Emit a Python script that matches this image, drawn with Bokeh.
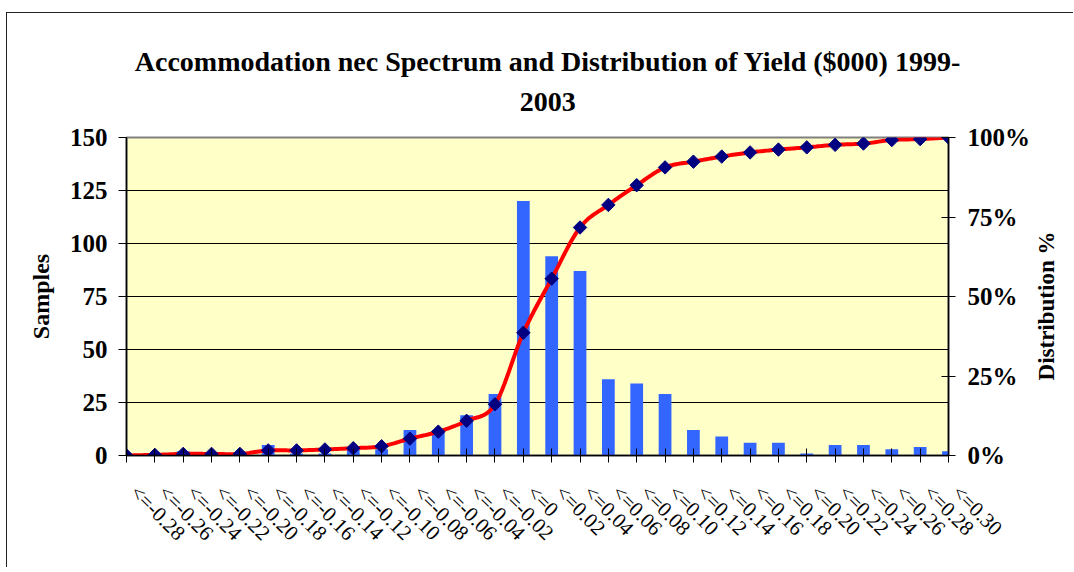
import math
import numpy as np
from bokeh.plotting import figure
from bokeh.models import Range1d, LinearAxis, FixedTicker, Title, ColumnDataSource
from bokeh.embed import file_html
from bokeh.resources import INLINE

# ---- data ----
categories = ["<=-0.28", "<=-0.26", "<=-0.24", "<=-0.22", "<=-0.20", "<=-0.18",
              "<=-0.16", "<=-0.14", "<=-0.12", "<=-0.10", "<=-0.08", "<=-0.06",
              "<=-0.04", "<=-0.02", "<=0", "<=0.02", "<=0.04", "<=0.06", "<=0.08",
              "<=0.10", "<=0.12", "<=0.14", "<=0.16", "<=0.18", "<=0.20", "<=0.22",
              "<=0.24", "<=0.26", "<=0.28", "<=0.30"]
samples = [0, 1, 2, 0, 0, 5, 1, 1, 3, 3, 12, 12, 19, 29, 120, 94, 87, 36, 34, 29,
           12, 9, 6, 6, 1, 5, 5, 3, 4, 2]
distribution_pct = [0, 0.2, 0.5, 0.5, 0.5, 1.6, 1.6, 1.9, 2.3, 2.9, 5.3, 7.5, 10.9,
                    16.1, 38.6, 55.6, 71.7, 78.8, 85.0, 90.6, 92.4, 94.0, 95.3, 96.2,
                    96.9, 97.7, 98.1, 99.2, 99.5, 100]
left_ticks = [0, 25, 50, 75, 100, 125, 150]
right_ticks = [0, 25, 50, 75, 100]
title_line1 = "Accommodation nec Spectrum and Distribution of Yield ($000) 1999-"
title_line2 = "2003"
right_title = "Distribution %"

FONT = "Liberation Serif"
NB = "\u00a0\u00a0"
idx = list(range(len(categories)))

p = figure(width=1067, height=555, output_backend="svg", toolbar_location=None,
           x_range=Range1d(0, len(categories) - 1), y_range=Range1d(0, 150),
           min_border_left=119, min_border_right=126, min_border_top=124,
           min_border_bottom=113)
p.styles = {"border-left": "1px solid #222", "border-top": "1px solid #222",
            "margin-top": "12px", "margin-left": "6px"}
p.extra_y_ranges = {"pct": Range1d(0, 100)}
p.background_fill_color = "#FFFFC8"
p.border_fill_color = "white"
p.outline_line_color = "#808080"
p.outline_line_width = 2

# grid
p.xgrid.visible = False
p.ygrid.ticker = FixedTicker(ticks=left_ticks[1:-1])
p.ygrid.grid_line_color = "black"
p.ygrid.grid_line_width = 1

# bars
src = ColumnDataSource(dict(x=idx, top=samples))
p.vbar(x="x", top="top", width=0.45, bottom=0, source=src,
       fill_color="#3366FF", line_color=None)

# smoothed cumulative line (Excel-style bezier smoothing of the read points)
pts = np.column_stack([np.array(idx, float), np.array(distribution_pct, float)])
sx, sy = [], []
n = len(pts)
for i in range(n - 1):
    p0 = pts[i - 1] if i > 0 else pts[i]
    p1 = pts[i]
    p2 = pts[i + 1]
    p3 = pts[i + 2] if i + 2 < n else pts[i + 1]
    c1 = p1 + (p2 - p0) / 6.0
    c2 = p2 - (p3 - p1) / 6.0
    for t in np.linspace(0, 1, 16)[:-1]:
        b = ((1 - t) ** 3) * p1 + 3 * ((1 - t) ** 2) * t * c1 + 3 * (1 - t) * t * t * c2 + t ** 3 * p2
        sx.append(b[0]); sy.append(b[1])
sx.append(pts[-1][0]); sy.append(pts[-1][1])
p.line(sx, sy, y_range_name="pct", line_color="#FF0000", line_width=4)
p.scatter(idx, distribution_pct, y_range_name="pct", marker="square", angle=math.pi / 4,
          size=9.5, fill_color="#000080", line_color="#000080")

# x axis
xa = p.xaxis[0]
xa.ticker = FixedTicker(ticks=idx)
xa.major_label_overrides = {i: NB + c for i, c in enumerate(categories)}
xa.major_label_orientation = -math.pi / 4
xa.major_label_text_font = FONT
xa.major_label_text_font_size = "21px"
xa.major_label_text_color = "black"
xa.major_label_standoff = 19
xa.major_tick_in = 7
xa.major_tick_out = 7
xa.minor_tick_line_color = None
xa.axis_line_color = "black"
xa.axis_line_width = 1.5
xa.major_tick_line_color = "black"

# left axis
ya = p.yaxis[0]
ya.ticker = FixedTicker(ticks=left_ticks)
ya.major_label_text_font = FONT
ya.major_label_text_font_style = "bold"
ya.major_label_text_font_size = "25px"
ya.major_label_text_color = "black"
ya.major_label_standoff = 11
ya.major_tick_in = 0
ya.major_tick_out = 8
ya.minor_tick_line_color = None
ya.axis_line_color = "black"
ya.axis_line_width = 1.5
ya.axis_label = "Samples"
ya.axis_label_text_font = FONT
ya.axis_label_text_font_style = "bold"
ya.axis_label_text_font_size = "24px"
ya.axis_label_text_color = "black"
ya.axis_label_standoff = 13

# right axis (ticks + % labels)
ra = LinearAxis(y_range_name="pct", ticker=FixedTicker(ticks=right_ticks))
ra.major_label_overrides = {v: f"{v}%" for v in right_ticks}
ra.major_label_text_font = FONT
ra.major_label_text_font_style = "bold"
ra.major_label_text_font_size = "25px"
ra.major_label_text_color = "black"
ra.major_label_standoff = 12
ra.major_tick_in = 7
ra.major_tick_out = 7
ra.minor_tick_line_color = None
ra.axis_line_color = "black"
ra.axis_line_width = 1.5
p.add_layout(ra, "right")

# right axis title, written bottom-to-top (placed as a single rotated label)
title_pos = 23.6  # where the rotated title text starts, on the % scale
rt = LinearAxis(y_range_name="pct", ticker=FixedTicker(ticks=[title_pos]))
rt.major_label_overrides = {title_pos: right_title}
rt.major_label_orientation = math.pi / 2
rt.major_label_text_font = FONT
rt.major_label_text_font_style = "bold"
rt.major_label_text_font_size = "23px"
rt.major_label_text_color = "black"
rt.major_label_text_line_height = 0.6
rt.major_label_standoff = 13
rt.major_tick_in = 0
rt.major_tick_out = 0
rt.major_tick_line_color = None
rt.minor_tick_line_color = None
rt.axis_line_color = None
p.add_layout(rt, "right")

# title (two lines; second line padded so that it sits centred under the first)
line1 = "\u00a0" * 3 + title_line1
line2 = "\u2003" * 14 + "\u00a0" * 2 + title_line2
t = Title(text=line1 + "\n" + line2, align="center",
          text_font=FONT, text_font_style="bold", text_font_size="28px",
          text_color="black", standoff=40, text_line_height=1.32)
p.add_layout(t, "above")

open("out.html", "w").write(file_html(p, INLINE))
